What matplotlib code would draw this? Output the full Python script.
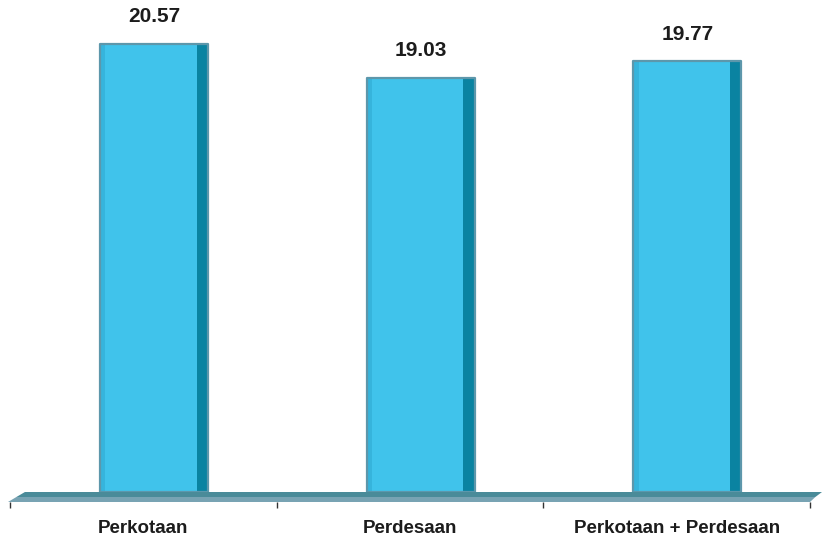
import matplotlib
matplotlib.use("Agg")
import matplotlib.pyplot as plt
from matplotlib.patches import Polygon
import numpy as np

plt.rcParams["font.family"] = ["Liberation Sans", "DejaVu Sans"]

categories = ["Perkotaan", "Perdesaan", "Perkotaan + Perdesaan"]
values = [20.57, 19.03, 19.77]

FACE = "#40c3eb"
SIDE = "#0a83a1"
EDGE = "#5d97ab"
FLOOR_TOP = "#4a8b99"
FLOOR_BOT = "#78a3b3"

fig = plt.figure(figsize=(8.24, 5.41), dpi=100)
ax = fig.add_axes([10 / 824, 49 / 541, 800 / 824, 492 / 541])
ax.set_xlim(-0.5, 2.5)
ax.set_ylim(0, 22.59)

px = 22.59 / 492  # data units per pixel, vertically
xs = np.arange(len(categories))

# floor slab under the bars (two shaded bands, slanted left end)
d = 10 * px
floor_top = Polygon([(-0.444, 0), (2.545, 0), (2.52, -d / 2), (-0.476, -d / 2)],
                    closed=True, facecolor=FLOOR_TOP, edgecolor="none",
                    clip_on=False, zorder=1)
floor_bot = Polygon([(-0.476, -d / 2), (2.52, -d / 2), (2.5, -d), (-0.5075, -d)],
                    closed=True, facecolor=FLOOR_BOT, edgecolor="none",
                    clip_on=False, zorder=1)
ax.add_patch(floor_top)
ax.add_patch(floor_bot)

# bar body: front face, dark right side, then a soft outline round both
ax.bar(xs + 0.019, values, 0.3625, color=FACE, edgecolor="none", zorder=3)
ax.bar(xs + 0.2215, values, 0.043, color=SIDE, edgecolor="none", zorder=3)
ax.bar(xs + 0.0405, values, 0.405, color="none", edgecolor=EDGE,
       linewidth=1.6, joinstyle="round", zorder=4)
# slightly darker strip along the left of each face
ax.bar(xs - 0.152, values, 0.02, color="#36b4dc", edgecolor="none", zorder=3)

for x, v in zip(xs, values):
    ax.text(x + 0.04, v + 27 * px, f"{v:.2f}", ha="center", va="center",
            fontsize=15, fontweight="bold", color="#1c1c1c", zorder=5)

# ticks at the category boundaries, labels at the centres
for s in ax.spines.values():
    s.set_visible(False)
ax.spines["bottom"].set_position(("data", -d))
ax.set_xticks([-0.5, 0.5, 1.5, 2.5])
ax.set_xticklabels([])
ax.tick_params(axis="x", which="major", length=4.5, width=1, color="#333333")
ax.set_xticks(xs, minor=True)
ax.set_xticklabels(categories, minor=True, fontsize=13.5, fontweight="bold",
                   color="#1c1c1c")
ax.tick_params(axis="x", which="minor", length=0, pad=13)
ax.set_yticks([])

fig.savefig("out.png", dpi=100, facecolor="white")
